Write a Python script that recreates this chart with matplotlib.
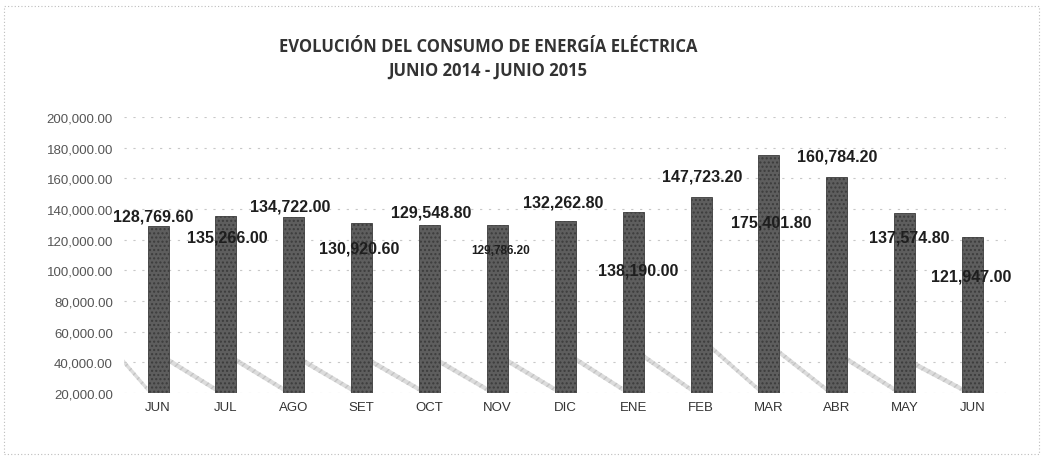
import numpy as np
import matplotlib
matplotlib.use("Agg")
import matplotlib.pyplot as plt
from matplotlib.patches import Polygon, Rectangle

# datos del grafico
meses = ["JUN", "JUL", "AGO", "SET", "OCT", "NOV", "DIC", "ENE", "FEB", "MAR", "ABR", "MAY", "JUN"]
consumo = [128769.60, 135266.00, 134722.00, 130920.60, 129548.80, 129786.20, 132262.80,
           138190.00, 147723.20, 175401.80, 160784.20, 137574.80, 121947.00]
y_ticks = [20000, 40000, 60000, 80000, 100000, 120000, 140000, 160000, 180000, 200000]

# desplazamiento de cada etiqueta respecto a la cima de la barra (pixeles)
lbl_dx = [-5, 1, -4, -2, 2, 3, -2, 5, 1, 2, 0, 5, -1]
lbl_dy = [10, -21, 11, -25, 13, -25, 19, -58, 21, -67, 21, -24, -39]

fig = plt.figure(figsize=(10.43, 4.64), dpi=100)
fig.patch.set_facecolor("white")
ax = fig.add_axes([0.119, 0.151, 0.846, 0.595])

x = np.arange(len(meses))
base = 20000
w = 0.31

# sombras del efecto 3D sobre el piso
for i, v in enumerate(consumo):
    h = base + (v - base) * 0.2
    x0 = i - 1 + w / 2 if i > 0 else -0.5
    x1 = i - w / 2
    poly = Polygon([(x0, h), (x0, h - 3500), (x1, base + 800), (x1, base + 4000)],
                   closed=True, facecolor="#dcdcdc", edgecolor="none", hatch="////",
                   zorder=1)
    poly.set_edgecolor("#c4c4c4")
    poly.set_linewidth(0)
    ax.add_patch(poly)

ax.bar(x, np.array(consumo) - base, bottom=base, width=w, color="#5e5e5e",
       edgecolor="#3c3c3c", hatch="....", linewidth=0.6, zorder=3)

for i, v in enumerate(consumo):
    fs = 8.5 if i == 5 else 11.5
    ax.annotate(f"{v:,.2f}", xy=(i, v), xytext=(lbl_dx[i], lbl_dy[i]),
                textcoords="offset pixels", ha="center", va="center",
                fontsize=fs, fontweight="bold", color="#1e1e1e",
                family="Liberation Sans", zorder=5)

ax.set_xlim(-0.5, len(meses) - 0.5)
ax.set_ylim(20000, 200000)
ax.set_yticks(y_ticks)
ax.set_yticklabels([f"{t:,.2f}" for t in y_ticks], fontsize=9.5, color="#555555",
                   family="Liberation Sans")
ax.set_xticks(x)
ax.set_xticklabels(meses, fontsize=9.5, color="#333333", family="Liberation Sans")
ax.tick_params(axis="both", length=0, pad=6)
ax.tick_params(axis="y", pad=8)
ax.grid(axis="y", color="#c8c8c8", linestyle=(0, (2, 6)), linewidth=0.8, zorder=0)
for s in ax.spines.values():
    s.set_visible(False)

fig.text(0.468, 0.898, "EVOLUCIÓN DEL CONSUMO DE ENERGÍA ELÉCTRICA", ha="center", va="center",
         fontsize=12, fontweight="bold", color="#333333", family="Open Sans")
fig.text(0.468, 0.848, "JUNIO 2014 - JUNIO 2015", ha="center", va="center",
         fontsize=12, fontweight="bold", color="#333333", family="Open Sans")

# marco del grafico escaneado
fig.add_artist(Rectangle((0.004, 0.02), 0.992, 0.965, transform=fig.transFigure,
                         fill=False, edgecolor="#bdbdbd", linestyle=(0, (1, 2)), linewidth=0.8))

fig.savefig("out.png", dpi=100)
